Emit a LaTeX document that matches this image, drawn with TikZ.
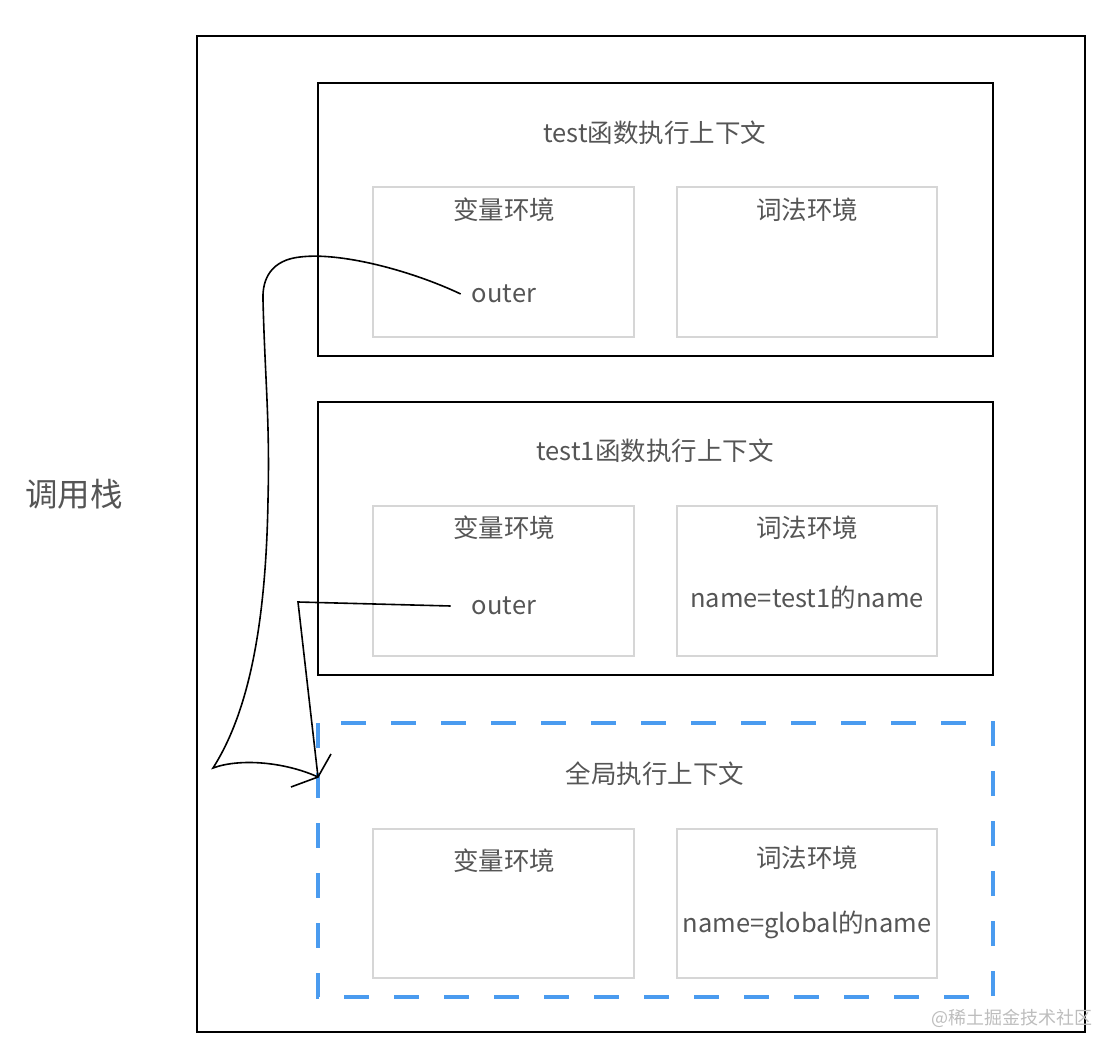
\documentclass[tikz,border=0pt]{standalone}
\usepackage{fontspec}
\setmainfont{Noto Sans CJK SC}
\usetikzlibrary{positioning}

\definecolor{txtgray}{HTML}{555555}
\definecolor{boxgray}{HTML}{D6D6D6}
\definecolor{dashblue}{HTML}{4A9BEF}
\definecolor{markgray}{HTML}{BDBDBD}

\begin{document}
\begin{tikzpicture}[
    x=1pt, y=-1pt,
    lbl/.style={text=txtgray, font=\fontsize{25.5}{30}\selectfont, inner sep=0pt},
    frame/.style={draw=black, line width=1.8pt},
    envbox/.style={draw=boxgray, line width=1.8pt},
    link/.style={draw=black, line width=1.6pt}
]
\useasboundingbox (0,0) rectangle (1120,1054);

% Call stack frame
\draw[frame] (197,36) rectangle (1085,1032);
\node[lbl, font=\fontsize{32.5}{38}\selectfont] (stack) at (74,494) {调用栈};

% test context
\draw[frame] (318,83) rectangle (993,356);
\node[lbl] (testTitle) at (655,133) {test函数执行上下文};
\draw[envbox] (373,187) rectangle (634,337);
\draw[envbox] (677,187) rectangle (937,337);
\node[lbl] (testVar) at (504,210) {变量环境};
\node[lbl] (testLex) at (807,210) {词法环境};
\node[lbl, inner xsep=11pt] (outerA) at (504,294) {outer};

% test1 context
\draw[frame] (318,402) rectangle (993,675);
\node[lbl] (testOneTitle) at (655,451) {test1函数执行上下文};
\draw[envbox] (373,506) rectangle (634,656);
\draw[envbox] (677,506) rectangle (937,656);
\node[lbl] (testOneVar) at (504,528) {变量环境};
\node[lbl] (testOneLex) at (807,528) {词法环境};
\node[lbl, inner xsep=21pt] (outerB) at (504,606) {outer};
\node[lbl] (testOneName) at (807,598) {name=test1的name};

% global context
\draw[dashblue, line width=3.5pt, dash pattern=on 25pt off 25pt] (318,723) rectangle (993,997);
\node[lbl] (globalTitle) at (655,774) {全局执行上下文};
\draw[envbox] (373,829) rectangle (634,978);
\draw[envbox] (677,829) rectangle (937,978);
\node[lbl] (globalVar) at (504,861) {变量环境};
\node[lbl] (globalLex) at (807,858) {词法环境};
\node[lbl] (globalName) at (807,925) {name=global的name};

% Outer links
\coordinate (tip) at (318,777);
\coordinate (barbL) at (291,787);
\coordinate (barbR) at (331,754);
\coordinate (bendB) at (298,602);

\draw[link] (outerA.west) .. controls (410,270) and (340,252) .. (300,257)
    .. controls (272,260) and (262,278) .. (263,300)
    .. controls (265,380) and (270,420) .. (268,500)
    .. controls (266,620) and (250,710) .. (213,768)
    .. controls (240,758) and (285,762) .. (tip);
\draw[link] (outerB.west) -- (bendB) -- (tip);
\draw[link] (barbL) -- (tip) -- (barbR);

% Watermark
\node[text=markgray, font=\fontsize{18}{21}\selectfont, inner sep=0pt] (mark) at (1012,1018) {@稀土掘金技术社区};

\end{tikzpicture}
\end{document}
